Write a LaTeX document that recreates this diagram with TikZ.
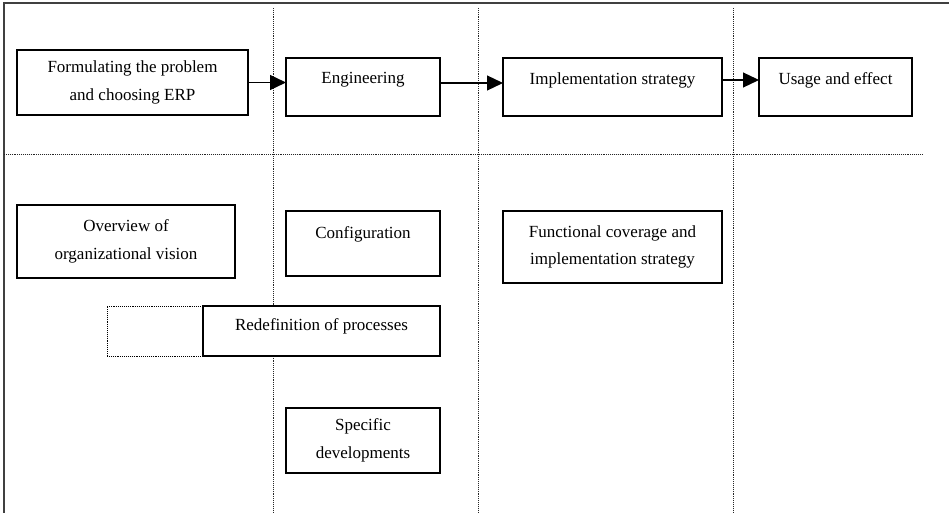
\documentclass[tikz,border=0pt]{standalone}
\usepackage{fontspec}
\setmainfont{Liberation Serif}
\usepackage{tikz}
\usetikzlibrary{arrows.meta,positioning}

\begin{document}
\begin{tikzpicture}[
  x=1pt,y=-1pt,
  stage/.style={draw=black,fill=white,line width=1.2pt,inner sep=0pt,outer sep=0pt,
    align=center,font=\fontsize{17}{27.5}\selectfont},
  ghost/.style={draw=black,fill=white,densely dotted,line width=0.9pt,inner sep=0pt,outer sep=0pt},
  lane/.style={black!85,densely dotted,line width=0.9pt},
  flow/.style={-{Triangle[length=16pt,width=15pt]},line width=1.2pt}
]
\useasboundingbox (0,0) rectangle (949,513);
% frame and lanes
\draw[black!75,line width=1.3pt] (4,513) -- (4,3) -- (949,3);
\draw[lane] (4,154) -- (923,154);
\foreach \lx in {273,478,733}
  \draw[lane] (\lx,8) -- (\lx,513);

% main chain
\node[stage,minimum width=231,minimum height=65,text depth=4pt] (formulate) at (132.5,82.5)
  {Formulating the problem\\and choosing ERP};
\node[stage,minimum width=154,minimum height=58] (engineer) at (363,87)
  {Engineering\\[-10pt]~};
\node[stage,minimum width=219,minimum height=58] (implement) at (612.5,87)
  {Implementation strategy\\[-10pt]~};
\node[stage,minimum width=153,minimum height=58] (usage) at (835.5,87)
  {Usage and effect\\[-10pt]~};

\draw[flow] (formulate.east) -- (formulate.east -| engineer.west);
\draw[flow] ([yshift=4pt]engineer.east) -- ([yshift=4pt]implement.west);
\draw[flow] ([yshift=7pt]implement.east) -- ([yshift=7pt]usage.west);

% activities
\node[stage,minimum width=218,minimum height=73] (overview) at (126,241.5)
  {Overview of\\organizational vision};
\node[stage,minimum width=154,minimum height=65] (config) at (363,243.5)
  {Configuration\\[-6pt]~};
\node[ghost,minimum width=96,minimum height=50] (redefghost) at (155,331) {};
\node[stage,minimum width=237,minimum height=50,text depth=12pt] (redef) at (321.5,331)
  {Redefinition of processes};
\node[stage,minimum width=219,minimum height=72] (coverage) at (612.5,247)
  {Functional coverage and\\implementation strategy};
\node[stage,minimum width=154,minimum height=65] (specific) at (363,440.5)
  {Specific\\developments};
\end{tikzpicture}
\end{document}
